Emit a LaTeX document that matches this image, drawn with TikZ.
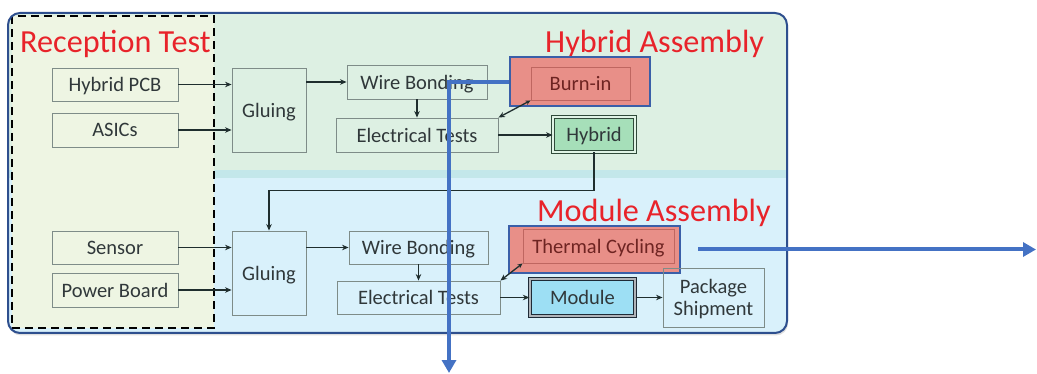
\documentclass[tikz,border=0pt]{standalone}
\usepackage{fontspec}
\setmainfont{Carlito}
\usetikzlibrary{arrows.meta,shadows}

\definecolor{frameblue}{HTML}{2E4F8E}
\definecolor{hybbg}{HTML}{DDF0E3}
\definecolor{band}{HTML}{C3E7EA}
\definecolor{modbg}{HTML}{D9F1FB}
\definecolor{recbg}{HTML}{EEF5E3}
\definecolor{boxline}{HTML}{7E8C88}
\definecolor{txt}{HTML}{30383A}
\definecolor{titlered}{HTML}{E8232A}
\definecolor{hlblue}{HTML}{3A5FA8}
\definecolor{hlfill}{HTML}{E88F88}
\definecolor{hlinner}{HTML}{BF6660}
\definecolor{hltext}{HTML}{6E2422}
\definecolor{hybfill}{HTML}{A6DFB9}
\definecolor{hybline}{HTML}{2F4A3A}
\definecolor{modfill}{HTML}{9DDFF4}
\definecolor{modline}{HTML}{1E2A36}
\definecolor{arrowdark}{HTML}{1F2E2E}
\definecolor{flowblue}{HTML}{4472C4}

\begin{document}
\begin{tikzpicture}[x=1pt,y=-1pt,
  box/.style={draw=boxline,line width=0.9pt,inner sep=0pt,text=txt,text depth=0pt,
    font=\fontsize{20.5}{23}\selectfont,align=center},
  title/.style={text=titlered,font=\fontsize{32.2}{35}\selectfont,inner sep=0pt,anchor=base west},
  flow/.style={draw=arrowdark,line width=1.6pt,-{Stealth[length=6.5pt,width=5.5pt]}},
  twoway/.style={draw=arrowdark,line width=1.3pt,
    {Stealth[length=5pt,width=4.5pt]}-{Stealth[length=6.5pt,width=5.5pt]}},
  hl/.style={draw=hlblue,line width=2pt,fill=hlfill,inner sep=0pt},
  hlbox/.style={box,draw=hlinner,text=hltext},
  bigarrow/.style={draw=flowblue,line width=4pt,-{Triangle[length=13pt,width=14pt]}},
]
\useasboundingbox (0,0) rectangle (1037,374);

% panel with its two assembly areas
\path[rounded corners=12pt,fill=white,
  drop shadow={shadow xshift=1pt,shadow yshift=-2.5pt,opacity=0.25}]
  (8,13) rectangle (787,333);
\begin{scope}
  \clip[rounded corners=12pt] (8,13) rectangle (787,333);
  \fill[hybbg] (8,13) rectangle (787,170);
  \fill[band] (8,170) rectangle (787,178);
  \fill[modbg] (8,178) rectangle (787,333);
\end{scope}
\draw[fill=recbg,draw=black,line width=1.8pt,dash pattern=on 8pt off 5pt]
  (12,16) rectangle (214,328);
\draw[frameblue,line width=2pt,rounded corners=12pt] (8,13) rectangle (787,333);

% area titles
\node[title] (tRec) at (20,53) {Reception Test};
\node[title] (tHyb) at (545,53) {Hybrid Assembly};
\node[title] (tMod) at (537,222) {Module Assembly};

% hybrid assembly
\node[box,minimum width=126pt,minimum height=33pt] (pcb) at (115,84.5) {Hybrid PCB};
\node[box,minimum width=126pt,minimum height=34pt] (asic) at (115,130) {ASICs};
\node[box,minimum width=74pt,minimum height=84pt] (glu1) at (269,110) {Gluing};
\node[box,minimum width=140pt,minimum height=34pt] (wb1) at (417,82) {Wire Bonding};
\node[box,minimum width=162pt,minimum height=34pt] (et1) at (417,135) {Electrical Tests};
\node[hl,minimum width=140pt,minimum height=49pt] (burnhl) at (580,82) {};
\node[hlbox,minimum width=99pt,minimum height=33pt] (burn) at (580.5,83.5) {Burn-in};
\node[box,draw=hybline,fill=hybfill,line width=0.9pt,double=hybfill!35!white,
  double distance=1.6pt,minimum width=82pt,minimum height=35pt] (hyb) at (594,134.5) {Hybrid};

% module assembly
\node[box,minimum width=126pt,minimum height=33pt] (sen) at (115,247.5) {Sensor};
\node[box,minimum width=126pt,minimum height=34pt] (pwr) at (115,290) {Power Board};
\node[box,minimum width=74pt,minimum height=84pt] (glu2) at (269,273) {Gluing};
\node[box,minimum width=139pt,minimum height=33pt] (wb2) at (418.5,247.5) {Wire Bonding};
\node[box,minimum width=163pt,minimum height=33pt] (et2) at (418.5,297.5) {Electrical Tests};
\node[hl,minimum width=171pt,minimum height=47pt] (tchl) at (594.5,249.5) {};
\node[hlbox,minimum width=151pt,minimum height=34pt] (tc) at (598.5,246) {Thermal Cycling};
\node[box,draw=modline,fill=modfill,line width=1.4pt,double=modline!35!white,
  double distance=1.4pt,minimum width=105pt,minimum height=37pt] (mod) at (582.5,297.5) {Module};
\node[box,minimum width=101pt,minimum height=59pt] (pkg) at (713.5,297.5) {Package\\[-1pt]Shipment};

% process flow
\draw[flow] (pcb.east) -- (pcb.east -| glu1.west);
\draw[flow] (asic.east) -- (asic.east -| glu1.west);
\draw[flow] (glu1.east |- wb1.west) -- (wb1.west);
\draw[flow] (wb1.south) -- (wb1.south |- et1.north);
\draw[twoway] (burn.south west) -- (et1.north east);
\draw[flow] (et1.east) -- (et1.east -| hyb.west);
\draw[flow] (hyb.south) -- ++(0,38) -| (glu2.north);

\draw[flow] (sen.east) -- (sen.east -| glu2.west);
\draw[flow] (pwr.east) -- (pwr.east -| glu2.west);
\draw[flow] (glu2.east |- wb2.west) -- (wb2.west);
\draw[flow] (wb2.south) -- (wb2.south |- et2.north);
\draw[twoway] (tc.south west) -- (et2.north east);
\draw[flow] (et2.east) -- (et2.east -| mod.west);
\draw[flow] (mod.east) -- (mod.east -| pkg.west);

% outgoing test paths
\coordinate (outA) at (449,373);
\coordinate (outB) at (1036,249.5);
\draw[bigarrow] (burnhl.west) -| (outA);
\draw[bigarrow,shorten <=17pt] (tchl.east) -- (outB);
\end{tikzpicture}
\end{document}
